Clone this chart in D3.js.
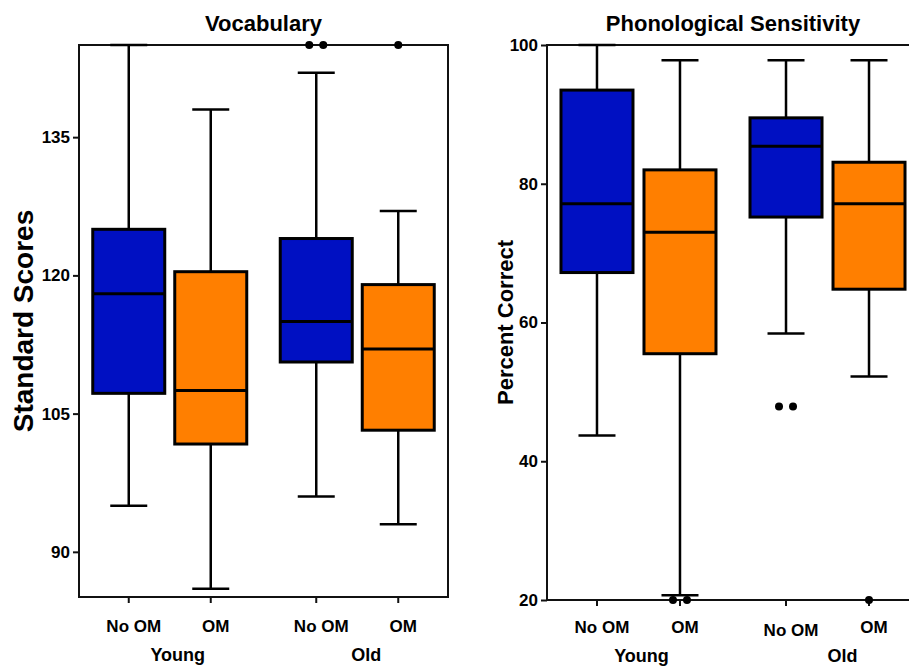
<!DOCTYPE html>
<meta charset="utf-8">
<script src="https://d3js.org/d3.v7.min.js"></script>
<style>
    body { margin: 0; background: #fff; }
    text { font-family: "Liberation Sans", Arial, sans-serif; font-weight: bold; fill: #000; }
</style>
<div id="chart"></div>

<script>

    // box order: Young/No OM, Young/OM, Old/No OM, Old/OM
    const groups = ["Young", "Old"];
    const conditions = ["No OM", "OM"];

    const vocabLow = [95, 86, 96, 93];
    const vocabQ1 = [107.2, 101.7, 110.6, 103.2];
    const vocabMedian = [118, 107.5, 115, 112];
    const vocabQ3 = [125, 120.4, 124, 119];
    const vocabHigh = [145, 138, 142, 127];
    const vocabOutliers = [[], [], [145, 145], [145]];
    const vocabTicks = [90, 105, 120, 135];

    const phonLow = [43.7, 20.7, 58.4, 52.2];
    const phonQ1 = [67.2, 55.5, 75.2, 64.8];
    const phonMedian = [77.1, 73, 85.4, 77.1];
    const phonQ3 = [93.5, 82, 89.5, 83.1];
    const phonHigh = [100, 97.8, 97.8, 97.8];
    const phonOutliers = [[], [20, 20], [47.9, 47.9], [20]];
    const phonTicks = [20, 40, 60, 80, 100];

    const blue = "#0010c2";
    const orange = "#ff7f00";

    const svg = d3.select("#chart")
        .append("svg")
        .attr("width", 909)
        .attr("height", 667);

    function makeBoxes(low, q1, med, q3, high, outliers) {
        const out = [];
        groups.forEach((g, gi) => {
            conditions.forEach((c, ci) => {
                const i = gi * 2 + ci;
                out.push({group: g, cond: c, low: low[i], q1: q1[i], med: med[i], q3: q3[i], high: high[i], outliers: outliers[i]});
            });
        });
        return out;
    }

    function drawPanel(p) {
        const g = svg.append("g")
            .attr("transform", `translate(${p.left}, ${p.top})`);

        const y = d3.scaleLinear().domain(p.domain).range([p.height, 0]);
        const xg = d3.scalePoint().domain(groups).range([0, p.width]).padding(0.484);
        const xc = d3.scalePoint().domain(conditions).range([-p.inner, p.inner]);
        const cx = d => xg(d.group) + xc(d.cond);

        // frame
        g.append("rect")
            .attr("width", p.width)
            .attr("height", p.height)
            .attr("fill", "none")
            .attr("stroke", "#111")
            .attr("stroke-width", 2);

        // y axis
        const ya = g.append("g")
            .call(d3.axisLeft(y).tickValues(p.ticks).tickSize(6).tickPadding(3));
        ya.select(".domain").remove();
        ya.selectAll("line").attr("stroke", "#111").attr("stroke-width", 2);
        ya.selectAll("text").style("font-size", "17px").attr("fill", "#000");

        // x ticks
        const boxes = p.boxes;
        g.append("g").selectAll("line")
            .data(boxes)
            .join("line")
            .attr("x1", cx).attr("x2", cx)
            .attr("y1", p.height).attr("y2", p.height + 6)
            .attr("stroke", "#111").attr("stroke-width", 2);

        g.append("g").selectAll("text")
            .data(boxes)
            .join("text")
            .attr("x", d => cx(d) + 5)
            .attr("y", (d, i) => p.height + p.condY + (p.condShift ? p.condShift[i] : 0))
            .attr("text-anchor", "middle")
            .style("font-size", "17px")
            .text(d => d.cond);

        g.append("g").selectAll("text")
            .data(groups)
            .join("text")
            .attr("x", (d, i) => xg(d) + p.groupShift[i])
            .attr("y", p.height + p.groupY)
            .attr("text-anchor", "middle")
            .style("font-size", "18px")
            .text(d => d);

        // whiskers
        const bw = 72, cw = 37;
        const wg = g.append("g").attr("stroke", "#000").attr("stroke-width", 2.5);
        wg.selectAll(".stem")
            .data(boxes)
            .join("line")
            .attr("x1", cx).attr("x2", cx)
            .attr("y1", d => y(d.low)).attr("y2", d => y(d.high));
        wg.selectAll(".capLo")
            .data(boxes)
            .join("line")
            .attr("x1", d => cx(d) - cw / 2).attr("x2", d => cx(d) + cw / 2)
            .attr("y1", d => y(d.low)).attr("y2", d => y(d.low));
        wg.selectAll(".capHi")
            .data(boxes)
            .join("line")
            .attr("x1", d => cx(d) - cw / 2).attr("x2", d => cx(d) + cw / 2)
            .attr("y1", d => y(d.high)).attr("y2", d => y(d.high));

        // boxes
        g.append("g").selectAll("rect")
            .data(boxes)
            .join("rect")
            .attr("x", d => cx(d) - bw / 2)
            .attr("width", bw)
            .attr("y", d => y(d.q3))
            .attr("height", d => y(d.q1) - y(d.q3))
            .attr("fill", d => d.cond === "OM" ? orange : blue)
            .attr("stroke", "#000")
            .attr("stroke-width", 3);

        g.append("g").selectAll("line")
            .data(boxes)
            .join("line")
            .attr("x1", d => cx(d) - bw / 2).attr("x2", d => cx(d) + bw / 2)
            .attr("y1", d => y(d.med)).attr("y2", d => y(d.med))
            .attr("stroke", "#000")
            .attr("stroke-width", 3);

        // outliers
        const pts = [];
        boxes.forEach(b => {
            const n = b.outliers.length;
            b.outliers.forEach((v, k) => pts.push({x: cx(b) + (k - (n - 1) / 2) * 14, v: v}));
        });
        g.append("g").selectAll("circle")
            .data(pts)
            .join("circle")
            .attr("cx", d => d.x)
            .attr("cy", d => y(d.v))
            .attr("r", 4)
            .attr("fill", "#000");

        // titles
        g.append("text")
            .attr("x", p.width / 2)
            .attr("y", -14)
            .attr("text-anchor", "middle")
            .style("font-size", "22px")
            .text(p.title);

        g.append("text")
            .attr("transform", `translate(${p.ytitleX - p.left}, ${p.height / 2}) rotate(-90)`)
            .attr("text-anchor", "middle")
            .style("font-size", p.ytitleSize)
            .text(p.ytitle);
    }

    drawPanel({
        left: 79, top: 45, width: 369, height: 552, inner: 41,
        domain: [85.1, 145], ticks: vocabTicks,
        boxes: makeBoxes(vocabLow, vocabQ1, vocabMedian, vocabQ3, vocabHigh, vocabOutliers),
        title: "Vocabulary", ytitle: "Standard Scores", ytitleX: 33, ytitleSize: "28px",
        condY: 35, groupY: 64, groupShift: [8, 9]
    });

    drawPanel({
        left: 547, top: 45, width: 372, height: 555, inner: 41.5,
        domain: [20, 100], ticks: phonTicks,
        boxes: makeBoxes(phonLow, phonQ1, phonMedian, phonQ3, phonHigh, phonOutliers),
        title: "Phonological Sensitivity", ytitle: "Percent Correct", ytitleX: 513, ytitleSize: "22px",
        condY: 33, condShift: [0, 0, 3, 0], groupY: 62, groupShift: [3, 15]
    });

</script>
